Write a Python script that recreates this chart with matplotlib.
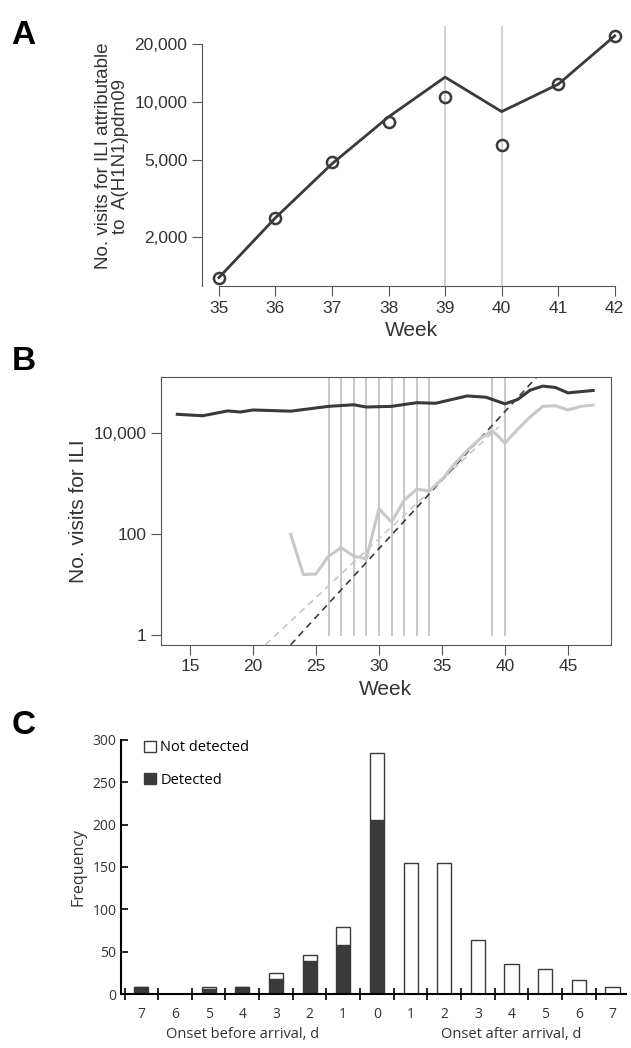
import matplotlib
matplotlib.use("agg")
import matplotlib.pyplot as plt
from matplotlib.patches import Patch
from matplotlib.ticker import FixedLocator, NullLocator
import numpy as np

# ---- panel A: A(H1N1)pdm09 attributable visits
A_WEEKS = [35, 36, 37, 38, 39, 40, 41, 42]
A_LINE = [1234, 2520, 4800, 8400, 13500, 8950, 12400, 22100]
A_POINTS = [1234, 2520, 4900, 7870, 10700, 6020, 12400, 22100]
A_VLINES = [39, 40]

# ---- panel B: ILI visits
B_ALL_WEEKS = [14, 16, 18, 19, 20, 23, 26, 28, 29, 31, 33, 34.5, 37, 38.5, 40, 41, 42, 43, 44, 45, 47]
B_ALL = [23000, 21500, 26800, 25500, 28000, 26500, 33000, 35500, 32000, 33000, 39000, 38000,
         53000, 50000, 37000, 45000, 69000, 83000, 78000, 61000, 68000]
B_FLU_WEEKS = [23, 24, 25, 26, 27, 28, 29, 30, 31, 32, 33, 34, 35, 36, 37, 38, 39, 40, 41, 42, 43, 44, 45, 46, 47]
B_FLU = [97, 15.6, 16, 36, 53, 36, 32, 314, 170, 458, 760, 700, 1200, 2400, 4400, 7500, 11000,
         6200, 11500, 20400, 33000, 34000, 28000, 33000, 35000]
B_VLINES = [26, 27, 28, 29, 30, 31, 32, 33, 34, 39, 40]
# dashed exponential fits: (week, value) end points
FIT_DARK = ([23, 42.5], [0.64, 1.24e5])
FIT_LIGHT = ([21, 39.5], [0.64, 13000])

# ---- panel C: onset relative to arrival
C_LABELS = ["7", "6", "5", "4", "3", "2", "1", "0", "1", "2", "3", "4", "5", "6", "7"]
C_DETECTED = [8, 0, 6, 8, 18, 39, 58, 206, 0, 0, 0, 0, 0, 0, 0]
C_TOTAL = [8, 0, 8, 8, 25, 46, 79, 284, 155, 155, 64, 35, 29, 17, 8]

DARK = "#3a3a3a"
LIGHT = "#c8c8c8"
CAL = ["Open Sans", "DejaVu Sans"]
plt.rcParams["font.family"] = ["Liberation Sans", "DejaVu Sans"]

fig = plt.figure(figsize=(6.31, 10.48), dpi=100)

# ---------------- A
ax = fig.add_axes([0.32, 0.727, 0.665, 0.248])
ax.set_yscale("log")
for w in A_VLINES:
    ax.axvline(w, color=LIGHT, lw=1.2, zorder=1)
ax.plot(A_WEEKS, A_LINE, color=DARK, lw=2, zorder=2)
ax.plot(A_WEEKS, A_POINTS, "o", mfc="none", mec=DARK, mew=1.8, ms=8, zorder=3)
ax.set_xlim(34.7, 42.12)
ax.set_ylim(1115, 24800)
ax.yaxis.set_major_locator(FixedLocator([2000, 5000, 10000, 20000]))
ax.yaxis.set_minor_locator(NullLocator())
ax.set_yticklabels(["2,000", "5,000", "10,000", "20,000"])
ax.set_xticks(A_WEEKS)
for s in ["top", "right"]:
    ax.spines[s].set_visible(False)
ax.spines["bottom"].set_bounds(35, 42)
ax.spines["left"].set_bounds(1115, 20000)
for s in ["bottom", "left"]:
    ax.spines[s].set_color("#555555")
ax.tick_params(colors="#555555", labelcolor="#333333", labelsize=12.5, length=7)
ax.set_xlabel("Week", fontsize=15, color="#333333")
ax.set_ylabel("No. visits for ILI attributable\nto  A(H1N1)pdm09", fontsize=13.5, color="#333333",
              linespacing=0.95)
fig.text(0.018, 0.958, "A", fontsize=24, fontweight="bold")

# ---------------- B
ax = fig.add_axes([0.255, 0.385, 0.713, 0.255])
ax.set_yscale("log")
for w in B_VLINES:
    ax.plot([w, w], [1, 1.3e5], color=LIGHT, lw=1.4, zorder=1)
ax.plot(*FIT_LIGHT, color=LIGHT, lw=1.2, ls=(0, (4, 3)), zorder=2)
ax.plot(*FIT_DARK, color=DARK, lw=1.2, ls=(0, (4, 3)), zorder=2)
ax.plot(B_FLU_WEEKS, B_FLU, color=LIGHT, lw=2.2, zorder=3)
ax.plot(B_ALL_WEEKS, B_ALL, color=DARK, lw=2.2, zorder=3)
ax.set_xlim(12.7, 48.4)
ax.set_ylim(0.645, 1.24e5)
ax.yaxis.set_major_locator(FixedLocator([1, 100, 10000]))
ax.yaxis.set_minor_locator(NullLocator())
ax.set_yticklabels(["1", "100", "10,000"])
ax.set_xticks([15, 20, 25, 30, 35, 40, 45])
for s in ax.spines.values():
    s.set_color("#555555")
ax.tick_params(colors="#555555", labelcolor="#333333", labelsize=12.5, length=7)
ax.set_xlabel("Week", fontsize=15, color="#333333")
ax.set_ylabel("No. visits for ILI", fontsize=15, color="#333333")
fig.text(0.018, 0.647, "B", fontsize=24, fontweight="bold")

# ---------------- C
ax = fig.add_axes([0.192, 0.0515, 0.8, 0.2425])
x = np.arange(len(C_LABELS))
undetected = np.array(C_TOTAL) - np.array(C_DETECTED)
ax.bar(x, C_DETECTED, width=0.42, color=DARK, edgecolor=DARK, lw=1)
ax.bar(x, undetected, width=0.42, bottom=C_DETECTED, color="white", edgecolor=DARK, lw=1)
ax.set_xlim(-0.6, 14.4)
ax.set_ylim(0, 300)
ax.set_yticks(range(0, 301, 50))
ax.set_xticks(x)
ax.set_xticklabels(C_LABELS)
ax.xaxis.set_minor_locator(FixedLocator(np.arange(-0.5, 14.6, 1)))
ax.tick_params(axis="x", which="major", length=0, labelsize=10, pad=9)
ax.tick_params(axis="x", which="minor", direction="inout", length=8, width=1.2)
ax.tick_params(axis="y", direction="in", length=5, width=1.2, labelsize=10)
for s in ["top", "right"]:
    ax.spines[s].set_visible(False)
for s in ["bottom", "left"]:
    ax.spines[s].set_linewidth(1.5)
for lab in ax.get_xticklabels() + ax.get_yticklabels():
    lab.set_family(CAL)
    lab.set_color("#333333")
ax.set_ylabel("Frequency", fontsize=11.5, family=CAL, color="#333333")
ax.text(3, -0.13, "Onset before arrival, d", transform=ax.get_xaxis_transform(), ha="center",
        va="top", fontsize=10.5, family=CAL, color="#333333")
ax.text(11, -0.13, "Onset after arrival, d", transform=ax.get_xaxis_transform(), ha="center",
        va="top", fontsize=10.5, family=CAL, color="#333333")
handles = [Patch(facecolor="white", edgecolor=DARK, label="Not detected"),
           Patch(facecolor=DARK, edgecolor=DARK, label="Detected")]
ax.legend(handles=handles, loc="upper left", bbox_to_anchor=(0.02, 1.05), frameon=False,
          handlelength=0.8, handleheight=0.8, handletextpad=0.3, labelspacing=1.2,
          prop={"family": CAL, "size": 10.5})
fig.text(0.018, 0.3, "C", fontsize=24, fontweight="bold")

plt.savefig("out.png", dpi=100)
